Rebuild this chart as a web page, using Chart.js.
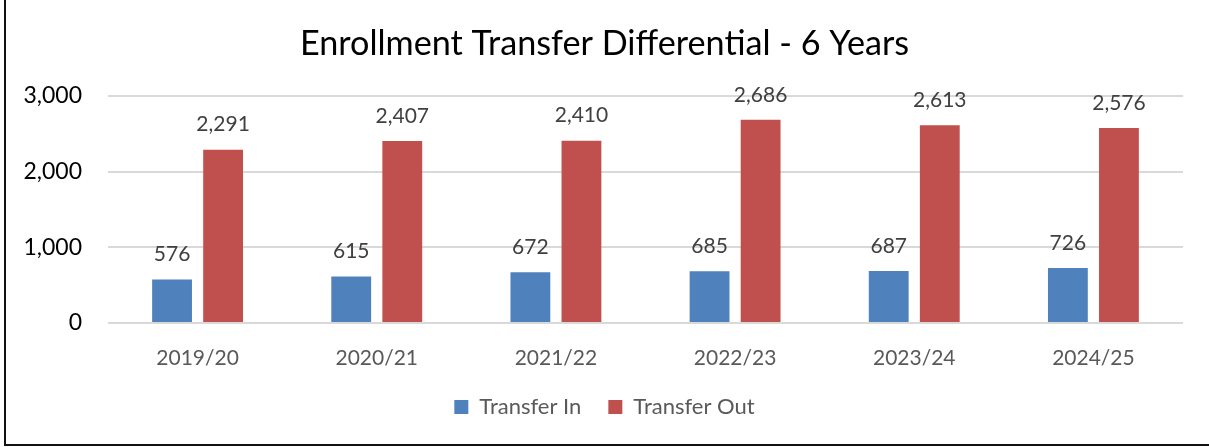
<!DOCTYPE html>
<html>
<head>
<meta charset="utf-8">
<script src="https://cdn.jsdelivr.net/npm/chart.js@4.4.1/dist/chart.umd.min.js"></script>
<style>
  body { margin: 0; background: #fff; }
  #wrap { position: relative; width: 1209px; height: 447px; }
  #frame {
    position: absolute; left: 4px; top: 0; right: 0; bottom: 1px;
    border-left: 2px solid #111; border-bottom: 2px solid #111;
    pointer-events: none;
  }
</style>
</head>
<body>
<div id="wrap">
  <canvas id="myChart" width="1209" height="447"></canvas>
  <div id="frame"></div>
</div>
<script>
const years = ['2019/20', '2020/21', '2021/22', '2022/23', '2023/24', '2024/25'];
const transferIn = [576, 615, 672, 685, 687, 726];
const transferOut = [2291, 2407, 2410, 2686, 2613, 2576];
const yTicks = [0, 1000, 2000, 3000];

const FONT = 'Lato, "Open Sans", sans-serif';

// value labels above each bar
const valueLabels = {
  id: 'valueLabels',
  afterDatasetsDraw(chart) {
    const c = chart.ctx;
    c.save();
    c.font = '21px ' + FONT;
    c.fillStyle = '#404040';
    c.textAlign = 'center';
    c.textBaseline = 'middle';
    chart.data.datasets.forEach((ds, i) => {
      chart.getDatasetMeta(i).data.forEach((bar, j) => {
        c.fillText(ds.data[j].toLocaleString('en-US'), bar.x, bar.y - 25);
      });
    });
    c.restore();
  }
};

const ctx = document.getElementById('myChart');

const chart = new Chart(ctx, {
  type: 'bar',
  data: {
    labels: years,
    datasets: [{
      label: 'Transfer In',
      data: transferIn,
      backgroundColor: '#4F81BD'
    }, {
      label: 'Transfer Out',
      data: transferOut,
      backgroundColor: '#C0504D'
    }]
  },
  options: {
    responsive: false,
    animation: false,
    categoryPercentage: 0.57,
    barPercentage: 0.78,
    layout: { padding: { top: 0, left: 0, right: 0, bottom: 19 } },
    scales: {
      x: {
        grid: { display: false },
        border: { display: false },
        ticks: { color: '#595959', font: { family: FONT, size: 21 }, padding: 15 },
        afterFit(scale) { scale.height = 46; }
      },
      y: {
        min: 0,
        max: 3000,
        afterBuildTicks(scale) { scale.ticks = yTicks.map(v => ({ value: v })); },
        grid: { color: '#D9D9D9', lineWidth: 2, drawTicks: false },
        border: { display: false },
        ticks: {
          color: '#000',
          font: { family: FONT, size: 23 },
          padding: 26,
          callback: v => v.toLocaleString('en-US')
        },
        afterFit(scale) { scale.width = 108; }
      },
      // empty right gutter so the title centres on the full width
      gutter: {
        position: 'right',
        grid: { display: false },
        border: { display: false },
        ticks: { display: false },
        afterFit(scale) { scale.width = 26; }
      }
    },
    plugins: {
      title: {
        display: true,
        text: 'Enrollment Transfer Differential - 6 Years',
        color: '#000',
        font: { family: FONT, size: 34.2, weight: 'normal' },
        padding: { top: 23, bottom: 32 }
      },
      legend: {
        position: 'bottom',
        labels: {
          color: '#595959',
          font: { family: FONT, size: 22 },
          boxWidth: 14,
          boxHeight: 14,
          padding: 27
        }
      },
      tooltip: { enabled: false }
    }
  },
  plugins: [valueLabels]
});
</script>
</body>
</html>
